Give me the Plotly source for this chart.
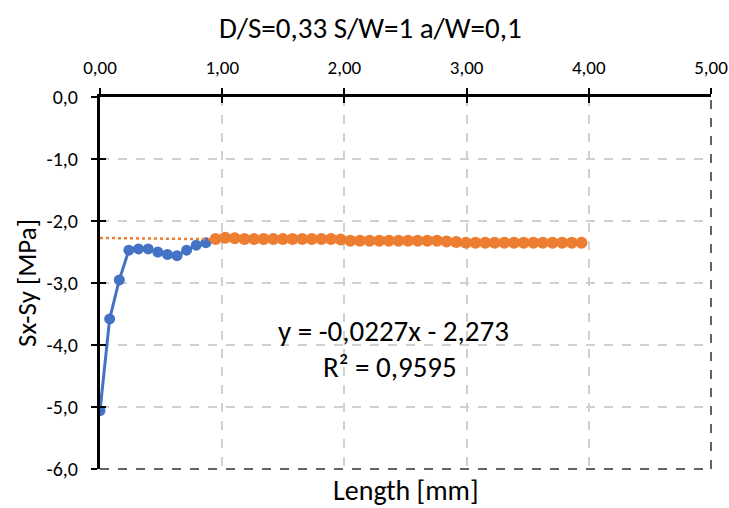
import plotly.graph_objects as go

# ---- data ----
blue_x = [0.000, 0.079, 0.158, 0.236, 0.315, 0.394, 0.473, 0.552, 0.630, 0.709, 0.788, 0.867]
blue_y = [-5.06, -3.58, -2.95, -2.47, -2.45, -2.45, -2.50, -2.54, -2.56, -2.47, -2.39, -2.35]

orange_x = [0.946, 1.024, 1.103, 1.182, 1.261, 1.339, 1.418, 1.497, 1.576, 1.655,
            1.733, 1.812, 1.891, 1.970, 2.049, 2.127, 2.206, 2.285, 2.364, 2.443,
            2.521, 2.600, 2.679, 2.758, 2.836, 2.915, 2.994, 3.073, 3.152, 3.230,
            3.309, 3.388, 3.467, 3.546, 3.624, 3.703, 3.782, 3.861, 3.940]
orange_y = [-2.29, -2.27, -2.28, -2.29, -2.29, -2.29, -2.29, -2.29, -2.29, -2.29,
            -2.29, -2.29, -2.29, -2.30, -2.32, -2.32, -2.32, -2.32, -2.32, -2.32,
            -2.32, -2.32, -2.32, -2.32, -2.33, -2.34, -2.35, -2.35, -2.35, -2.35,
            -2.35, -2.35, -2.35, -2.35, -2.35, -2.35, -2.35, -2.35, -2.35]

trend_slope = -0.0227
trend_intercept = -2.273

x_ticks = [0, 1, 2, 3, 4, 5]
x_tick_labels = ["0,00", "1,00", "2,00", "3,00", "4,00", "5,00"]
y_ticks = [0, -1, -2, -3, -4, -5, -6]
y_tick_labels = ["0,0", "-1,0", "-2,0", "-3,0", "-4,0", "-5,0", "-6,0"]

title_text = "D/S=0,33 S/W=1 a/W=0,1"
x_title = "Length [mm]"
y_title = "Sx-Sy [MPa]"
eq_text = "y = -0,0227x - 2,273"
r2_text = "R² = 0,9595"

FONT = "Carlito, Calibri, Lato, sans-serif"
BLUE = "#4472C4"
ORANGE = "#ED7D31"
TXT = "#000000"

trend_x = [0, orange_x[-1]]
trend_y = [trend_slope * v + trend_intercept for v in trend_x]

fig = go.Figure()
fig.add_trace(go.Scatter(x=blue_x, y=blue_y, mode="lines+markers",
                         line=dict(color=BLUE, width=3),
                         marker=dict(color=BLUE, size=11), showlegend=False))
fig.add_trace(go.Scatter(x=trend_x, y=trend_y, mode="lines",
                         line=dict(color=ORANGE, width=2.5, dash="dot"),
                         showlegend=False))
fig.add_trace(go.Scatter(x=orange_x, y=orange_y, mode="markers",
                         marker=dict(color=ORANGE, size=12), showlegend=False))
# helper trace for the inner half of the crossing tick marks
fig.add_trace(go.Scatter(x=[None], y=[None], xaxis="x2", yaxis="y2",
                         showlegend=False, hoverinfo="skip"))

common_tick = dict(tickcolor="black", tickwidth=2, ticklen=6)

fig.update_layout(
    width=729, height=508,
    margin=dict(l=100, r=18, t=97, b=39),
    paper_bgcolor="white", plot_bgcolor="white",
    font=dict(family=FONT, color=TXT),
    title=dict(text=title_text, xref="container", x=0.508, xanchor="center",
               yref="container", y=0.945, yanchor="middle",
               font=dict(size=29, family=FONT, color=TXT)),
    xaxis=dict(range=[0, 5], side="top", tickvals=x_ticks, ticktext=x_tick_labels,
               ticks="outside", **common_tick, ticklabelstandoff=6,
               tickfont=dict(size=19, family=FONT, color=TXT),
               ticklabeloverflow="allow", automargin=False,
               showline=True, linecolor="black", linewidth=3,
               showgrid=True, gridcolor="#D0D0D0", gridwidth=1.5, griddash="dash",
               zeroline=False),
    yaxis=dict(range=[-6, 0], tickvals=y_ticks, ticktext=y_tick_labels,
               ticks="outside", **common_tick, ticklabelstandoff=9,
               tickfont=dict(size=20, family=FONT, color=TXT),
               automargin=False,
               showline=True, linecolor="black", linewidth=3,
               showgrid=True, gridcolor="#D0D0D0", gridwidth=1.5, griddash="dash",
               zeroline=False,
               title=dict(text=y_title, font=dict(size=27, family=FONT, color=TXT),
                          standoff=3)),
    xaxis2=dict(overlaying="x", matches="x", side="top", anchor="y2",
                tickvals=x_ticks, ticks="inside", **common_tick, automargin=False,
                showticklabels=False, showgrid=False, zeroline=False, showline=False),
    yaxis2=dict(overlaying="y", matches="y", side="left", anchor="x2",
                tickvals=y_ticks, ticks="inside", **common_tick, automargin=False,
                showticklabels=False, showgrid=False, zeroline=False, showline=False),
    shapes=[
        dict(type="line", xref="paper", yref="paper", x0=0, x1=1, y0=0, y1=0,
             line=dict(color="#303030", width=1.5, dash="dash"), layer="above"),
        dict(type="line", xref="paper", yref="paper", x0=1, x1=1, y0=0, y1=1,
             line=dict(color="#303030", width=1.5, dash="dash"), layer="above"),
    ],
    annotations=[
        dict(text=eq_text, x=2.40, y=-3.78, xref="x", yref="y", showarrow=False,
             font=dict(size=29, family=FONT, color=TXT)),
        dict(text=r2_text, x=2.37, y=-4.35, xref="x", yref="y", showarrow=False,
             font=dict(size=29, family=FONT, color=TXT)),
        dict(text=x_title, x=0.5, y=0, xref="paper", yref="paper", yshift=-21,
             yanchor="middle", showarrow=False,
             font=dict(size=28, family=FONT, color=TXT)),
    ],
)

fig.write_html("out.html")
